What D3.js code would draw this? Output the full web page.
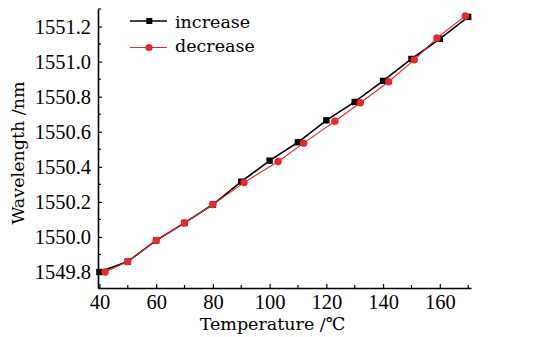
<!DOCTYPE html>
<html>
<head>
<meta charset="utf-8">
<script src="https://cdn.jsdelivr.net/npm/d3@7"></script>
<style>
  body { margin: 0; background: #fff; }
  text { font-family: "DejaVu Serif", serif; fill: #000; }
</style>
</head>
<body>
<div id="chart"></div>
<script>
// data
const incTemp = [40, 50, 60, 70, 80, 90, 100, 110, 120, 130, 140, 150, 160, 170]
const incWave = [1549.80, 1549.86, 1549.98, 1550.08, 1550.185, 1550.315, 1550.435, 1550.54, 1550.665, 1550.77, 1550.89, 1551.015, 1551.13, 1551.255]
const decTemp = [42, 50, 60, 70, 80, 91, 103, 112, 123, 132, 142, 151, 159, 169]
const decWave = [1549.80, 1549.86, 1549.98, 1550.08, 1550.185, 1550.31, 1550.43, 1550.535, 1550.66, 1550.765, 1550.885, 1551.01, 1551.135, 1551.26]
const xTicks = [40, 60, 80, 100, 120, 140, 160]
const yTicks = [1549.8, 1550.0, 1550.2, 1550.4, 1550.6, 1550.8, 1551.0, 1551.2]
const seriesNames = ["increase", "decrease"]

const width = 542
const height = 337
const margin = { top: 9, bottom: 49, left: 98, right: 71 }
const red = "#e8282b"

const svg = d3.select("div#chart").append("svg").attr("width", width).attr("height", height)

const x = d3.scaleLinear().domain([39.5, 171]).range([margin.left, width - margin.right])
const y = d3.scaleLinear().domain([1549.709, 1551.3]).range([height - margin.bottom, margin.top])

// axes (ticks pointing inward)
const xAxis = d3.axisBottom(x).tickValues(xTicks).tickSize(-4).tickSizeOuter(0).tickPadding(6)
const yAxis = d3.axisLeft(y).tickValues(yTicks).tickSize(-4).tickSizeOuter(0).tickPadding(7).tickFormat(d3.format(".1f"))

const xAxisGroup = svg.append("g").attr("transform", `translate(0, ${y.range()[0]})`).call(xAxis)
const yAxisGroup = svg.append("g").attr("transform", `translate(${x.range()[0]}, 0)`).call(yAxis)

// minor ticks
const xMinor = d3.range(50, 171, 20)
const yMinor = d3.range(1549.9, 1551.31, 0.2)
xAxisGroup.selectAll("line.minor").data(xMinor).enter().append("line")
    .attr("x1", d => x(d)).attr("x2", d => x(d)).attr("y1", 0).attr("y2", -3)
    .attr("stroke", "#000").attr("stroke-width", 1.2)
yAxisGroup.selectAll("line.minor").data(yMinor).enter().append("line")
    .attr("y1", d => y(d)).attr("y2", d => y(d)).attr("x1", 0).attr("x2", 3)
    .attr("stroke", "#000").attr("stroke-width", 1.2)

svg.selectAll(".domain").attr("stroke", "#000").attr("stroke-width", 1.6)
svg.selectAll(".tick line").attr("stroke", "#000").attr("stroke-width", 1.2)
svg.selectAll(".tick text").style("font-size", "20.5px").style("font-family", "'Liberation Serif'")
xAxisGroup.selectAll(".tick text").attr("dy", "0.71em")

// axis titles
svg.append("text").attr("x", (x.range()[0] + x.range()[1]) / 2 - 12).attr("y", 330)
    .attr("text-anchor", "middle").style("font-size", "17.5px").text("Temperature /℃")
svg.append("text").attr("transform", `translate(24, 153) rotate(-90)`)
    .attr("text-anchor", "middle").style("font-size", "17.5px").text("Wavelength /nm")

// lines
const line = d3.line().x(d => x(d[0])).y(d => y(d[1]))
const incData = incTemp.map((t, i) => [t, incWave[i]])
const decData = decTemp.map((t, i) => [t, decWave[i]])

svg.append("path").datum(incData).attr("d", line).attr("fill", "none").attr("stroke", "#000").attr("stroke-width", 1.6)
svg.selectAll("rect.inc").data(incData).enter().append("rect")
    .attr("x", d => x(d[0]) - 3.2).attr("y", d => y(d[1]) - 3.2)
    .attr("width", 6.4).attr("height", 6.4).attr("fill", "#000")

svg.append("path").datum(decData).attr("d", line).attr("fill", "none").attr("stroke", red).attr("stroke-width", 1.1)
svg.selectAll("circle.dec").data(decData).enter().append("circle")
    .attr("cx", d => x(d[0])).attr("cy", d => y(d[1])).attr("r", 3.7).attr("fill", red)

// legend
const legend = svg.append("g")
legend.append("line").attr("x1", 130).attr("x2", 167).attr("y1", 21).attr("y2", 21).attr("stroke", "#000").attr("stroke-width", 1.4)
legend.append("rect").attr("x", 146.3).attr("y", 18).attr("width", 6).attr("height", 6).attr("fill", "#000")
legend.append("line").attr("x1", 130).attr("x2", 167).attr("y1", 47.5).attr("y2", 47.5).attr("stroke", red).attr("stroke-width", 1.1)
legend.append("circle").attr("cx", 149).attr("cy", 47.5).attr("r", 3.6).attr("fill", red)
legend.selectAll("text").data(seriesNames).enter().append("text")
    .attr("x", 175).attr("y", (d, i) => 28 + i * 24).style("font-size", "17.5px").text(d => d)
</script>
</body>
</html>
